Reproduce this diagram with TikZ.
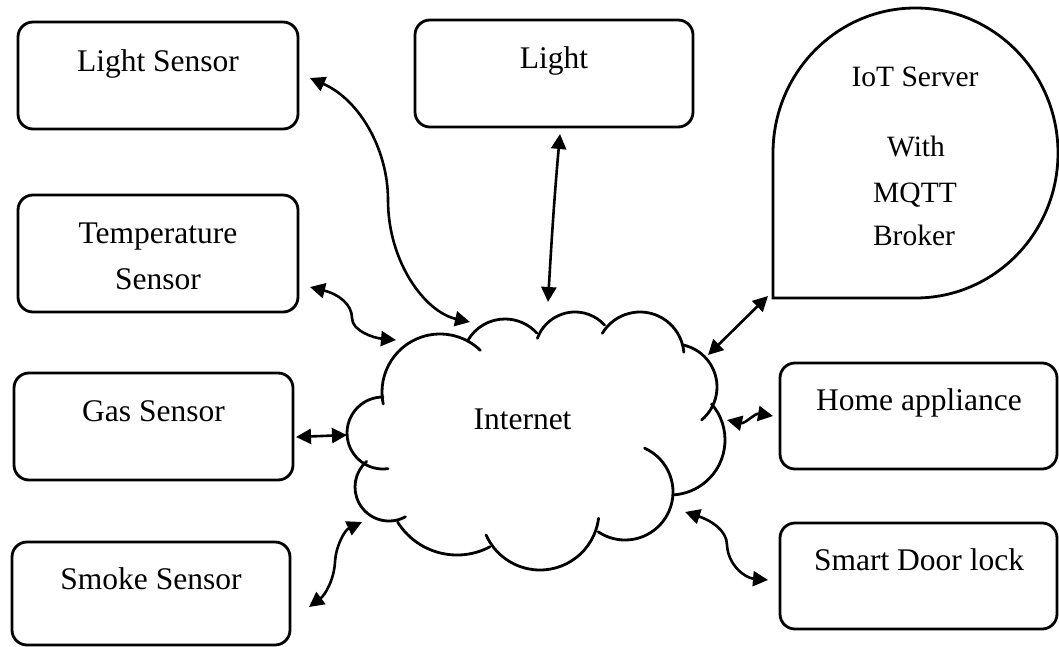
\documentclass[tikz,border=0pt]{standalone}
\usepackage{fontspec}
\setmainfont{Liberation Serif}
\usetikzlibrary{arrows.meta,calc}

\tikzset{
  box/.style={draw, line width=2.8pt, rounded corners=15pt, inner sep=0pt, outer sep=0pt},
  area/.style={inner sep=0pt, outer sep=0pt},
  lbl/.style={font=\fontsize{31.5}{38}\selectfont, inner sep=0pt, anchor=base},
  srvlbl/.style={font=\fontsize{29.5}{36}\selectfont, inner sep=0pt, anchor=base},
  outline/.style={line width=2.8pt, line cap=round},
  link/.style={line width=2.6pt, {Triangle[length=15pt,width=15pt]}-{Triangle[length=15pt,width=15pt]}},
}

\begin{document}
\begin{tikzpicture}[x=1pt, y=-1pt]
\useasboundingbox (0,0) rectangle (1059,647);

% device boxes
\node[box, minimum width=280pt, minimum height=107pt] (ls) at (158,75.5) {};
\node[box, minimum width=280pt, minimum height=117pt] (ts) at (158,253.5) {};
\node[box, minimum width=279pt, minimum height=107pt] (gs) at (153.5,426.5) {};
\node[box, minimum width=278pt, minimum height=103pt] (ss) at (151,593.5) {};
\node[box, minimum width=278pt, minimum height=107pt] (lt) at (554,73.5) {};
\node[box, minimum width=277pt, minimum height=106pt] (ha) at (918.5,416) {};
\node[box, minimum width=277pt, minimum height=106pt] (sd) at (918.5,576) {};

% box labels
\node[lbl] (ls-t) at (158,72) {Light Sensor};
\node[lbl] (lt-t) at (554,69) {Light};
\node[lbl] (ts-t1) at (158,243) {Temperature};
\node[lbl] (ts-t2) at (158,289) {Sensor};
\node[lbl] (gs-t) at (153.5,421) {Gas Sensor};
\node[lbl] (ss-t) at (151,589) {Smoke Sensor};
\node[lbl] (ha-t) at (919,410) {Home appliance};
\node[lbl] (sd-t) at (919,570) {Smart Door lock};

% IoT server: three-quarter round with a square lower-left corner
\node[area, minimum width=285pt, minimum height=290pt] (srv) at (915.5,153) {};
\draw[outline, line join=miter] (srv.south west) -- (srv.west)
  arc[start angle=180, end angle=450, x radius=142.5, y radius=145] -- cycle;
\node[srvlbl] (srv-t1) at (915,87) {IoT Server};
\node[srvlbl] (srv-t2) at (916,157) {With};
\node[srvlbl] (srv-t3) at (915,202) {MQTT};
\node[srvlbl] (srv-t4) at (914,245) {Broker};

% internet cloud, built from overlapping arcs
\node[area, minimum width=378pt, minimum height=258pt] (cloud) at (536,441) {};
\draw[outline] (440,392) ++(168:58) arc[start angle=168, end angle=314, radius=58];
\draw[outline] (505,362) ++(210:43) arc[start angle=210, end angle=318, radius=43];
\draw[outline] (575,352) ++(200:40) arc[start angle=200, end angle=318, radius=40];
\draw[outline] (640,356) ++(211:44) arc[start angle=211, end angle=355, radius=44];
\draw[outline] (674,387) ++(281:43) arc[start angle=281, end angle=410, radius=43];
\draw[outline] (670,440) ++(319:55) arc[start angle=319, end angle=447, radius=55];
\draw[outline] (625,492) ++(-66:48) arc[start angle=-66, end angle=124, radius=48];
\draw[outline] (540,511) ++(7:59) arc[start angle=7, end angle=156, radius=59];
\draw[outline] (457,485) ++(62:70) arc[start angle=62, end angle=148, radius=70];
\draw[outline] (389,487) ++(61:34) arc[start angle=61, end angle=229, radius=34];
\draw[outline] (383,433) ++(82:36) arc[start angle=82, end angle=270, radius=36];
\node[lbl] (net) at (522.5,429) {Internet};

% connectors
\draw[link] ($(ls.east)+(12,2.5)$)
  .. controls (360,100) and (388,150) .. (388,200)
  .. controls (388,262) and (425,312) .. ($(cloud.center)+(-66,-119)$);
\draw[link] ($(lt.south)+(6,7)$)
  .. controls (554,200) and (551,250) .. ($(cloud.center)+(12,-139)$);
\draw[link] ($(ts.east)+(12,33.5)$)
  .. controls (338,294) and (352,304) .. (352,318)
  .. controls (352,331) and (374,338) .. ($(cloud.center)+(-140,-101)$);
\draw[link] ($(gs.east)+(3,10.5)$) -- ($(cloud.center)+(-189,-6)$);
\draw[link] ($(ss.east)+(19,13.5)$)
  .. controls (325,595) and (334,580) .. (335,562)
  .. controls (336,545) and (345,530) .. ($(cloud.center)+(-174,81)$);
\draw[link] ($(srv.south west)+(-5,-2)$) -- ($(cloud.center)+(172,-86)$);
\draw[link] ($(cloud.center)+(191,-21)$)
  .. controls (745,424) and (755,413) .. ($(ha.west)+(-7,0)$);
\draw[link] ($(cloud.center)+(149,71)$)
  .. controls (710,520) and (727,530) .. (727,545)
  .. controls (728,565) and (745,578) .. ($(sd.west)+(-12,4)$);
\end{tikzpicture}
\end{document}
